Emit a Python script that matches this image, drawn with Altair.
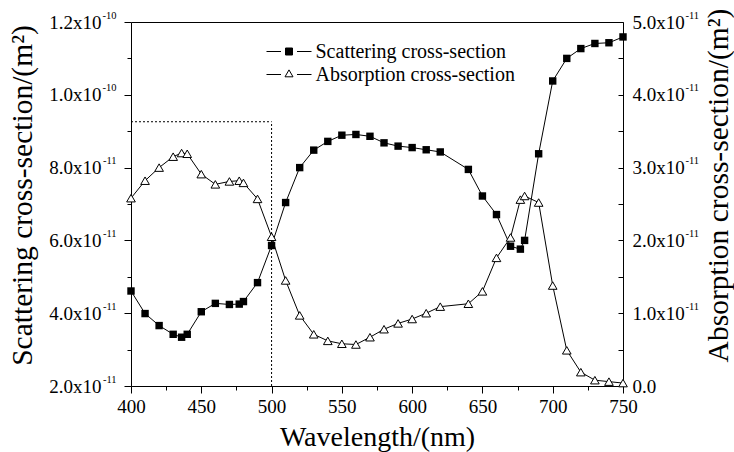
import altair as alt
import pandas as pd

# Wavelength grid (nm)
wavelength = [400, 410, 420, 430, 436, 440, 450, 460, 470, 477, 480, 490, 500,
              510, 520, 530, 540, 550, 560, 570, 580, 590, 600, 610, 620, 640,
              650, 660, 670, 677, 680, 690, 700, 710, 720, 730, 740, 750]

# Scattering cross-section, in units of 1e-11 m^2
scattering = [4.61, 3.99, 3.66, 3.42, 3.34, 3.42, 4.04, 4.27, 4.24, 4.25, 4.32,
              4.84, 5.86, 7.04, 8.00, 8.48, 8.72, 8.89, 8.91, 8.86, 8.68, 8.59,
              8.55, 8.49, 8.43, 7.95, 7.22, 6.71, 5.84, 5.76, 6.00, 8.38, 10.38,
              11.00, 11.27, 11.41, 11.43, 11.59]

# Absorption cross-section, in units of 1e-11 m^2
absorption = [2.58, 2.82, 3.00, 3.15, 3.20, 3.19, 2.91, 2.77, 2.81, 2.82, 2.79,
              2.57, 2.05, 1.45, 0.97, 0.71, 0.62, 0.58, 0.57, 0.67, 0.78, 0.86,
              0.92, 1.00, 1.09, 1.13, 1.30, 1.76, 2.04, 2.56, 2.61, 2.52, 1.38,
              0.49, 0.19, 0.08, 0.06, 0.04]

series_names = ["Scattering cross-section", "Absorption cross-section"]

# Dotted selection box: spans 400-500 nm, up to this scattering level
box_x = [400, 500]
box_top = 9.26
box_bottom = 2.0

x_ticks = list(range(400, 751, 25))
left_ticks = list(range(2, 13))
right_ticks = [i / 2 for i in range(0, 11)]

FONT = "Liberation Serif"

df = pd.DataFrame({"wavelength": wavelength,
                   "scattering": scattering,
                   "absorption": absorption})
box_df = pd.DataFrame({"x0": [box_x[0]], "x1": [box_x[1]],
                       "ytop": [box_top], "ybot": [box_bottom]})
legend_df = pd.DataFrame({"series": series_names})

x_scale = alt.Scale(domain=[400, 750], nice=False)
x_axis = alt.Axis(
    values=x_ticks,
    labelExpr="datum.value % 50 == 0 ? datum.label : ''",
    tickSize={"condition": {"test": "datum.value % 50 == 0", "value": 7}, "value": 4},
    labelPadding=4, labelFlush=False, labelOverlap=False,
    title="Wavelength/(nm)", titleFontSize=28, titleX=246, titleY=51,
    titleBaseline="middle", titleAlign="center",
)
x_enc = alt.X("wavelength:Q", scale=x_scale, axis=x_axis)

left_scale = alt.Scale(domain=[2, 12], nice=False, zero=False)
right_scale = alt.Scale(domain=[0, 5], nice=False, zero=False)

# Left axis: mantissa "a.bx10" plus a separate small raised exponent
left_axis = alt.Axis(
    values=left_ticks, orient="left",
    labelExpr=("datum.value % 2 == 0 ? format(datum.value >= 10 ? datum.value / 10 : "
               "datum.value, '.1f') + 'x10' : ''"),
    tickSize={"condition": {"test": "datum.value % 2 == 0", "value": 7}, "value": 4},
    labelPadding=23, labelOverlap=False, labelFlush=False,
    title="Scattering cross-section/(m\u00b2)", titleFontSize=29.5,
    titleX=-109, titleY=173, titleAngle=-90, titleBaseline="middle", titleAlign="center",
)
left_exp_axis = alt.Axis(
    values=left_ticks, orient="left", ticks=False, tickSize=0,
    labelExpr="datum.value % 2 == 0 ? (datum.value >= 10 ? '-10' : '-11') : ''",
    labelFontSize=10.5, labelOffset=-7, labelAlign="right", labelBaseline="middle",
    labelPadding=15, labelOverlap=False, labelFlush=False, title=None,
)

# Right axis: ticks pointing into the plot
right_axis = alt.Axis(
    values=right_ticks, orient="right", offset=-5, tickSize=5,
    labelExpr=("datum.value % 1 == 0 ? (datum.value == 0 ? '0.0' : "
               "format(datum.value, '.1f') + 'x10') : ''"),
    labelPadding=9, labelOverlap=False, labelFlush=False,
    title="Absorption cross-section/(m\u00b2)", titleFontSize=29.5,
    titleX=100, titleY=163, titleAngle=-90, titleBaseline="middle", titleAlign="center",
)
right_exp_axis = alt.Axis(
    values=right_ticks, orient="right", ticks=False, tickSize=0,
    labelExpr="datum.value % 1 == 0 && datum.value > 0 ? '-11' : ''",
    labelFontSize=10.5, labelOffset=-7, labelAlign="left", labelBaseline="middle",
    labelPadding=62, labelOverlap=False, labelFlush=False, title=None,
)

# Legend entries: line - marker - line, drawn as custom symbol paths
sq_path = "M-2.25,0H-0.8M0.8,0H2.25M-0.35,-0.35H0.35V0.35H-0.35Z"
tri_path = "M-2.25,0H-0.8M0.8,0H2.25M0,-0.462L-0.4,0.231L0.4,0.231Z"
legend = alt.Legend(
    orient="none", legendX=147.5, legendY=19, title=None,
    symbolSize=400, symbolStrokeWidth=1, symbolOpacity=1,
    labelFont=FONT, labelFontSize=20, labelColor="black", labelOffset=16,
    labelLimit=400, rowPadding=2, padding=0,
)

# Dotted box (left scale)
box_h = alt.Chart(box_df).mark_rule(color="black", strokeWidth=1, strokeDash=[2, 2]).encode(
    x=alt.X("x0:Q", scale=x_scale, axis=x_axis),
    x2="x1:Q",
    y=alt.Y("ytop:Q", scale=left_scale, axis=left_exp_axis),
)
box_v = alt.Chart(box_df).mark_rule(color="black", strokeWidth=1, strokeDash=[2, 2]).encode(
    x=alt.X("x1:Q", scale=x_scale, axis=x_axis),
    y=alt.Y("ybot:Q", scale=left_scale, axis=left_exp_axis),
    y2="ytop:Q",
)
left_exp = alt.layer(box_h, box_v)

y_left = alt.Y("scattering:Q", scale=left_scale, axis=left_axis)
scat_line = alt.Chart(df).mark_line(color="black", strokeWidth=1).encode(x=x_enc, y=y_left)
scat_pts = alt.Chart(df).mark_point(shape="square", filled=True, color="black",
                                    size=55, opacity=1).encode(x=x_enc, y=y_left)

legend_layer = alt.Chart(legend_df).mark_point(filled=True, opacity=0).encode(
    shape=alt.Shape("series:N", scale=alt.Scale(domain=series_names, range=[sq_path, tri_path]),
                    legend=legend),
    fill=alt.Fill("series:N", scale=alt.Scale(domain=series_names, range=["black", "white"]),
                  legend=legend),
    stroke=alt.Stroke("series:N", scale=alt.Scale(domain=series_names, range=["black", "black"]),
                      legend=legend),
)
left_main = alt.layer(scat_line, scat_pts, legend_layer)

abs_line = alt.Chart(df).mark_line(color="black", strokeWidth=1).encode(
    x=x_enc, y=alt.Y("absorption:Q", scale=right_scale, axis=right_exp_axis))
abs_pts = alt.Chart(df).mark_point(shape="triangle-up", filled=True, fill="white",
                                   stroke="black", strokeWidth=1, size=75,
                                   opacity=1).encode(
    x=x_enc, y=alt.Y("absorption:Q", scale=right_scale, axis=right_axis))

chart = alt.layer(left_exp, left_main, abs_line, abs_pts).resolve_scale(
    y="independent"
).properties(
    width=492, height=364,
    autosize=alt.AutoSizeParams(type="none"),
    padding={"left": 131, "top": 22, "right": 111, "bottom": 66},
    background="white",
).configure_view(
    stroke="black", strokeWidth=1
).configure_axis(
    grid=False, domain=False, tickColor="black", tickWidth=1,
    labelFont=FONT, labelFontSize=19, labelColor="black",
    titleFont=FONT, titleFontWeight="normal", titleColor="black",
)

chart.save("out.html", embed_options={"renderer": "svg", "actions": False})
